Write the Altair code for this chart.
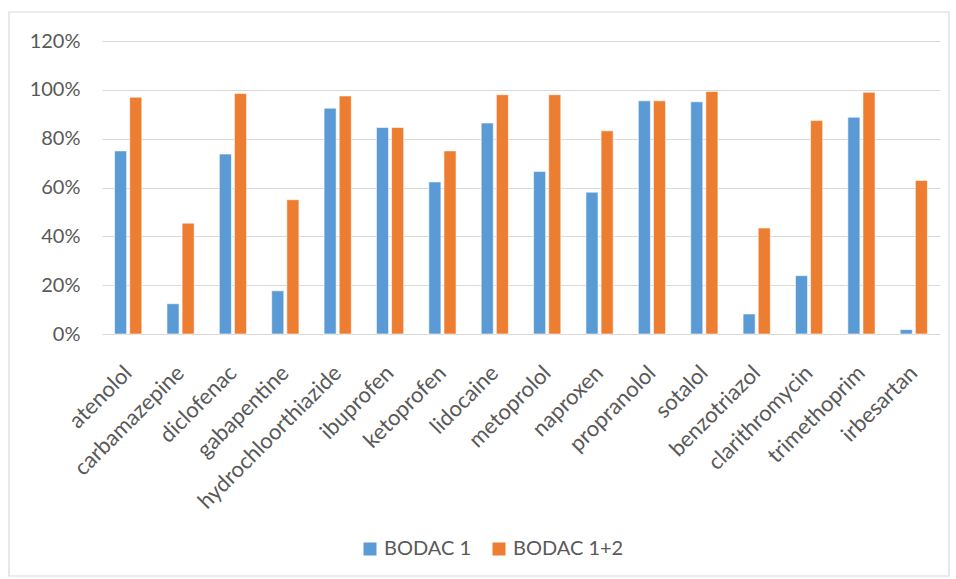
import altair as alt
import pandas as pd

compounds = ["atenolol", "carbamazepine", "diclofenac", "gabapentine", "hydrochloorthiazide",
             "ibuprofen", "ketoprofen", "lidocaine", "metoprolol", "naproxen", "propranolol",
             "sotalol", "benzotriazol", "clarithromycin", "trimethoprim", "irbesartan"]
bodac1 = [0.750, 0.124, 0.737, 0.177, 0.925, 0.846, 0.623, 0.864, 0.666, 0.581, 0.955,
          0.951, 0.082, 0.239, 0.888, 0.018]
bodac12 = [0.970, 0.454, 0.985, 0.550, 0.975, 0.846, 0.750, 0.980, 0.980, 0.832, 0.955,
           0.993, 0.434, 0.874, 0.990, 0.629]
series_names = ["BODAC 1", "BODAC 1+2"]
colors = ["#5B9BD5", "#ED7D31"]
y_ticks = [0, 0.2, 0.4, 0.6, 0.8, 1.0, 1.2]

rows = []
for c, a, b in zip(compounds, bodac1, bodac12):
    rows.append({"compound": c, "series": series_names[0], "value": a})
    rows.append({"compound": c, "series": series_names[1], "value": b})
df = pd.DataFrame(rows)

FONT = "Lato"
GREY = "#595959"

bars = alt.Chart(df).mark_bar(stroke="white", strokeWidth=0.6).encode(
    x=alt.X("compound:N", sort=compounds, title=None,
            scale=alt.Scale(paddingInner=0.48, paddingOuter=0.24),
            axis=alt.Axis(labelAngle=-45, labelFontSize=22, labelColor=GREY, labelFont=FONT,
                          ticks=False, domain=False, labelPadding=35, labelOffset=0,
                          labelLimit=400, labelAlign="right", labelBaseline="middle")),
    xOffset=alt.XOffset("series:N", sort=series_names, scale=alt.Scale(paddingInner=0.2)),
    y=alt.Y("value:Q", title=None,
            scale=alt.Scale(domain=[0, 1.2], nice=False),
            axis=alt.Axis(values=y_ticks, format=".0%", labelFontSize=20, labelColor=GREY,
                          labelFont=FONT, ticks=False, domain=False, labelPadding=22,
                          gridColor="#D9D9D9", gridWidth=1)),
    color=alt.Color("series:N", sort=series_names,
                    scale=alt.Scale(domain=series_names, range=colors),
                    legend=alt.Legend(title=None, orient="none", direction="horizontal",
                                      legendX=258, legendY=498, symbolType="square",
                                      symbolSize=169, symbolStrokeWidth=0,
                                      labelFontSize=20, labelColor=GREY, labelFont=FONT,
                                      columnPadding=17, labelOffset=4)),
)

border = alt.Chart(pd.DataFrame({"k": [0]})).mark_rect(
    fill=None, stroke="#D9D9D9", strokeWidth=1.2
).encode(x=alt.value(-93), x2=alt.value(847), y=alt.value(-29), y2=alt.value(535))

chart = alt.layer(border, bars).properties(
    width=838, height=293,
    autosize=alt.AutoSizeParams(type="none"),
    padding={"left": 102, "top": 41, "right": 16, "bottom": 245},
    background="white",
).configure_view(stroke=None)

chart.save("out.html", embed_options={"renderer": "svg", "actions": False})
